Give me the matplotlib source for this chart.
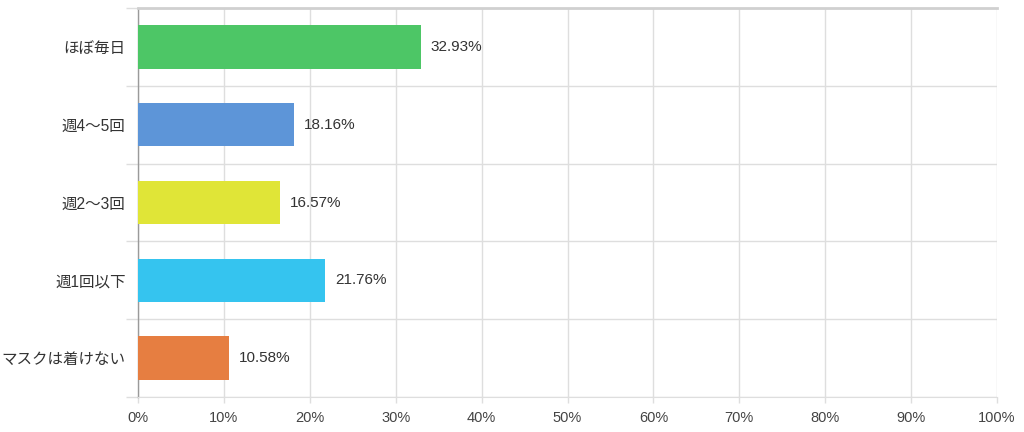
import matplotlib
matplotlib.use("Agg")
import matplotlib.pyplot as plt
import numpy as np

plt.rcParams['font.family'] = ['Liberation Sans', 'Noto Sans CJK JP', 'DejaVu Sans']

categories = ["ほぼ毎日", "週4〜5回", "週2〜3回", "週1回以下", "マスクは着けない"]
values = [32.93, 18.16, 16.57, 21.76, 10.58]
colors = ["#4dc666", "#5d95d8", "#e0e537", "#35c4ef", "#e67e41"]
xticks = list(range(0, 101, 10))
xtick_labels = [f"{v}%" for v in xticks]

fig = plt.figure(figsize=(10.24, 4.32), dpi=100)
W, H = 1024, 432
ax = fig.add_axes([138 / W, (H - 397) / H, (997 - 138) / W, (397 - 8) / H])

y = np.arange(len(categories))
ax.barh(y, values, height=0.56, color=colors, zorder=3)
for yi, v in zip(y, values):
    ax.text(v + 1.15, yi, f"{v:.2f}%", va="center", ha="left", fontsize=11, color="#333333")

ax.set_xlim(0, 100)
ax.set_ylim(len(categories) - 0.5, -0.5)
ax.set_xticks(xticks)
ax.set_xticklabels(xtick_labels, fontsize=10.5, color="#444444")
ax.set_yticks(y)
ax.set_yticklabels(categories, fontsize=11.2, color="#333333")
ax.set_yticks(np.arange(-0.5, len(categories)), minor=True)

grid_c = "#dedede"
ax.grid(axis="x", which="major", color=grid_c, linewidth=1, zorder=0)
ax.grid(axis="y", which="minor", color=grid_c, linewidth=1, zorder=0)
ax.tick_params(axis="y", which="major", length=0, pad=9)
ax.tick_params(axis="y", which="minor", length=9, color=grid_c, width=1)
ax.tick_params(axis="x", which="major", length=4, color=grid_c, width=1, pad=6)

ax.spines["right"].set_visible(False)
ax.spines["left"].set_color("#9a9a9a")
ax.spines["left"].set_linewidth(1)
ax.spines["bottom"].set_color(grid_c)
ax.spines["top"].set_color("#d0d0d0")
ax.spines["top"].set_linewidth(2)

fig.savefig("out.png", dpi=100)
